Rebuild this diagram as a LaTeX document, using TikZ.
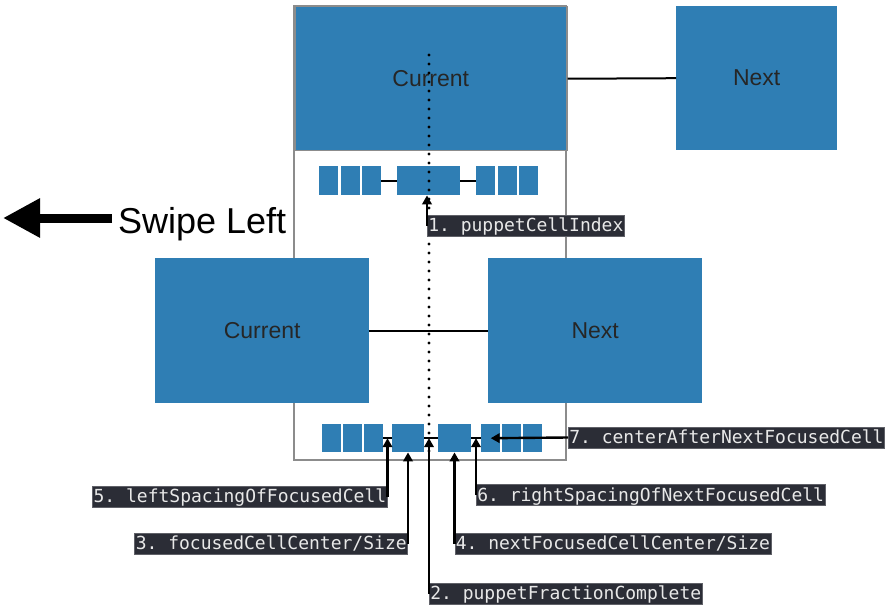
\documentclass[tikz,border=0pt]{standalone}
\usepackage{fontspec}
\setmainfont{Liberation Sans}
\newfontfamily\labfont{DejaVu Sans Mono}
\usetikzlibrary{arrows.meta}
\definecolor{cellblue}{HTML}{2F7EB4}
\definecolor{labbg}{HTML}{2B2D36}
\definecolor{labfg}{HTML}{E8E8E8}
\definecolor{framegray}{HTML}{8C8C8C}
\begin{document}
\frenchspacing
\begin{tikzpicture}[x=1pt,y=-1pt,
  bluebox/.style={fill=cellblue, draw=none, inner sep=0pt, anchor=north west,
    font=\fontsize{23}{27}\selectfont, text=black!85},
  cell/.style={fill=cellblue, inner sep=0pt, anchor=north west},
  codelab/.style={fill=labbg, draw=labbg!75!white, line width=0.6pt, text=labfg,
    font=\labfont\fontsize{18}{20}\selectfont\frenchspacing,
    inner xsep=1pt, inner ysep=1.5pt, text height=15pt, text depth=3pt},
  ptr/.style={line width=2.4pt, -{Triangle[length=9pt,width=9.5pt]}},
  link/.style={line width=2pt},
  dots/.style={line width=3.1pt, line cap=round, dash pattern=on 0pt off 9pt},
]
\useasboundingbox (0,0) rectangle (889,607);

% phone frame
\draw[framegray, line width=1.5pt] (294,6) rectangle (566,460);

% top row of big boxes
\node[bluebox, draw=framegray, line width=1.5pt, minimum width=272pt, minimum height=144pt] (topcur) at (294,6) {Current};
\node[bluebox, minimum width=161pt, minimum height=144pt] (topnext) at (676,6) {Next};
\draw[link] (topcur.east) -- (topnext.west);

% top row of small cells
\node[cell, minimum width=19pt, minimum height=29pt] (c1) at (319,166) {};
\node[cell, minimum width=19pt, minimum height=29pt] (c2) at (340.5,166) {};
\node[cell, minimum width=19pt, minimum height=29pt] (c3) at (362,166) {};
\node[cell, minimum width=63pt, minimum height=29pt] (big) at (397,166) {};
\node[cell, minimum width=19pt, minimum height=29pt] (d1) at (476,166) {};
\node[cell, minimum width=19pt, minimum height=29pt] (d2) at (497.5,166) {};
\node[cell, minimum width=19pt, minimum height=29pt] (d3) at (519,166) {};
\draw[link] (c3.east) -- (big.west);
\draw[link] (big.east) -- (d1.west);

% middle big boxes
\node[bluebox, minimum width=214pt, minimum height=145pt] (midcur) at (155,258) {Current};
\node[bluebox, minimum width=214pt, minimum height=145pt] (midnext) at (488,258) {Next};
\draw[link] (midcur.east) -- (midnext.west);

% bottom row of small cells
\node[cell, minimum width=19pt, minimum height=28pt] (e1) at (322,424) {};
\node[cell, minimum width=19pt, minimum height=28pt] (e2) at (343,424) {};
\node[cell, minimum width=19pt, minimum height=28pt] (e3) at (364,424) {};
\node[cell, minimum width=32pt, minimum height=28pt] (foc) at (392,424) {};
\node[cell, minimum width=33pt, minimum height=28pt] (nxt) at (438,424) {};
\node[cell, minimum width=19pt, minimum height=28pt] (a1) at (481,424) {};
\node[cell, minimum width=19pt, minimum height=28pt] (a2) at (502,424) {};
\node[cell, minimum width=19pt, minimum height=28pt] (a3) at (523,424) {};
\draw[link] (e3.east) -- (foc.west);
\draw[link] (foc.east) -- (nxt.west);
\draw[link] (nxt.east) -- (a1.west);

% dotted progress line
\coordinate (dottop) at (429,55);
\coordinate (dotbot) at (429,453);
\draw[dots] (dottop) -- (dotbot);

% swipe left
\node[anchor=base west, inner sep=0pt, font=\fontsize{36}{40}\selectfont] (swipe) at (118,233) {Swipe Left};
\coordinate (swipetip) at (3,218);
\draw[line width=9pt, -{Triangle[length=37pt,width=37pt]}] ([xshift=-6pt]swipe.west |- swipetip) -- (swipetip);

% labels
\node[codelab, anchor=west] (lab1) at (427,225.5) {1. puppetCellIndex};
\node[codelab, anchor=west] (lab7) at (568,437.5) {7. centerAfterNextFocusedCell};
\node[codelab, anchor=east] (lab5) at (387.5,496.5) {5. leftSpacingOfFocusedCell};
\node[codelab, anchor=west] (lab6) at (476,495) {6. rightSpacingOfNextFocusedCell};
\node[codelab, anchor=east] (lab3) at (408,543.5) {3. focusedCellCenter/Size};
\node[codelab, anchor=west] (lab4) at (454.5,543.5) {4. nextFocusedCellCenter/Size};
\node[codelab, anchor=west] (lab2) at (429,593.5) {2. puppetFractionComplete};

% pointers
\draw[ptr] (lab1.west) -- (lab1.west |- big.south);
\draw[ptr] (lab5.east) -- (lab5.east |- e3.east);
\draw[ptr] (lab3.east) -- (lab3.east |- foc.south);
\draw[ptr] (lab2.west) -- (lab2.west |- foc.east);
\draw[ptr] (lab4.west) -- (lab4.west |- nxt.south);
\draw[ptr] (lab6.west) -- (lab6.west |- nxt.east);
\draw[ptr] (lab7.west) -- (a1.center);
\end{tikzpicture}
\end{document}
